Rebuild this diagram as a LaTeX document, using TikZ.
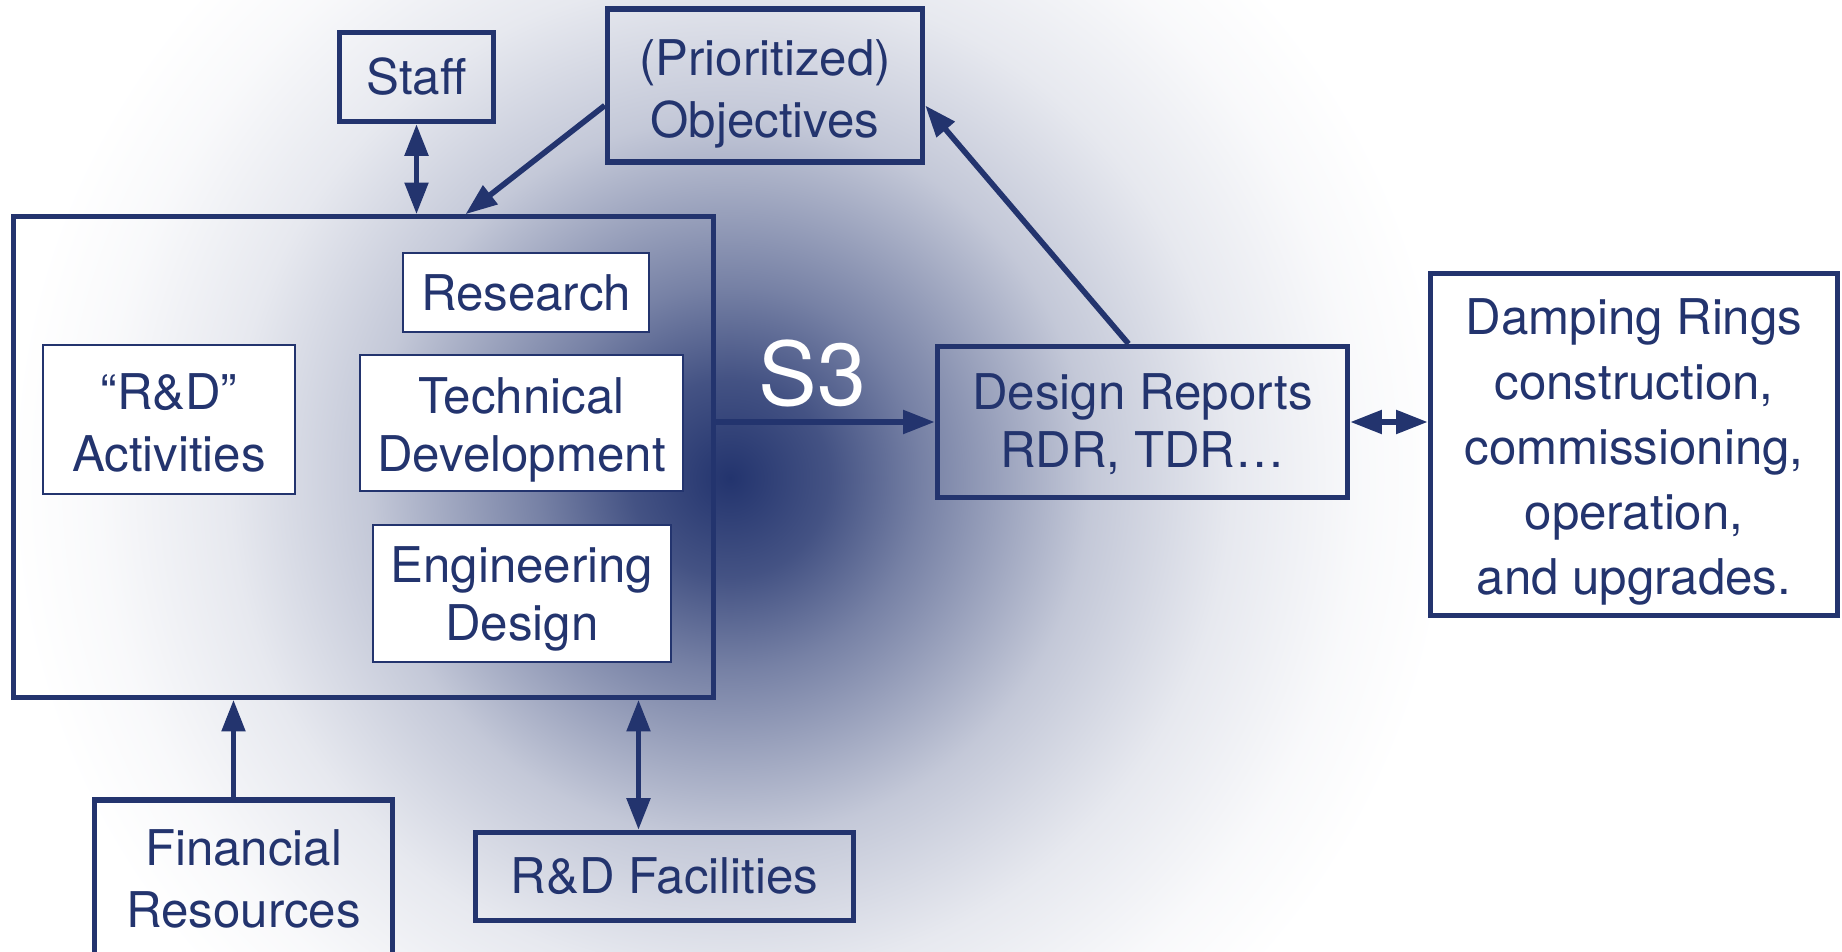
\documentclass[tikz,border=0pt]{standalone}
\usepackage{fontspec}
\setmainfont{TeX Gyre Heros}
\usepackage{tikz}
\usetikzlibrary{arrows.meta, calc}
\definecolor{ilcblue}{RGB}{35,52,110}
\pgfdeclareradialshading{glow}{\pgfpoint{0bp}{0bp}}{%
  color(0bp)=(ilcblue); color(3.3bp)=(ilcblue!85); color(6.4bp)=(ilcblue!62);
  color(12bp)=(ilcblue!27); color(16.7bp)=(ilcblue!11); color(21bp)=(ilcblue!3);
  color(24bp)=(white); color(50bp)=(white)}

\begin{document}
\begin{tikzpicture}[x=0.01cm, y=-0.01cm,
    font=\fontsize{14}{17.5}\selectfont, text=ilcblue,
    thickbox/.style={draw=ilcblue, line width=1.5pt, align=center, inner sep=0pt},
    thinbox/.style={draw=ilcblue, line width=0.6pt, fill=white, align=center, inner sep=0pt},
    tight/.style={font=\fontsize{14}{16.5}\selectfont},
    lowered/.style={execute at begin node={\rule{0pt}{#1}}},
    lowered/.default=32.5pt,
    link/.style={draw=ilcblue, line width=1.6pt, -{Triangle[length=9pt,width=6.5pt]}},
    twoway/.style={link, {Triangle[length=9pt,width=6.5pt]}-{Triangle[length=9pt,width=6.5pt]}}]
    \useasboundingbox (0,0) rectangle (1842,952);
    % glow behind everything
    \begin{scope}
        \clip (0,0) rectangle (1842,952);
        \shade[shading=glow] (730,478) circle (7.5cm);
    \end{scope}

    % R&D block and what it holds
    \node[thickbox, minimum width=7.0cm, minimum height=4.8cm] (rnd) at (363.5,457) {};
    \node[thinbox, minimum width=2.46cm, minimum height=0.79cm] (research) at (526,292.5) {Research};
    \node[thinbox, lowered=29.5pt, minimum width=2.52cm, minimum height=1.49cm] (activities) at (169,419.5) {“R\&D”\\Activities};
    \node[thinbox, tight, lowered=30.5pt, minimum width=3.23cm, minimum height=1.36cm] (technical) at (521.5,423) {Technical\\Development};
    \node[thinbox, tight, lowered=30pt, minimum width=2.98cm, minimum height=1.37cm] (engineering) at (522,593.5) {Engineering\\Design};

    % inputs and outputs
    \node[thickbox, minimum width=1.54cm, minimum height=0.89cm] (staff) at (416.5,77) {Staff};
    \node[thickbox, lowered, minimum width=3.15cm, minimum height=1.53cm] (objectives) at (765,85.5) {(Prioritized)\\Objectives};
    \node[thickbox, tight, lowered=28pt, minimum width=4.10cm, minimum height=1.51cm] (design) at (1142.5,422) {Design Reports\\RDR, TDR…};
    \node[thickbox, lowered=88.5pt, fill=white, minimum width=4.07cm, minimum height=3.42cm,
          font=\fontsize{14}{18.5}\selectfont] (damping) at (1634,444.5) {Damping Rings\\construction,\\commissioning,\\operation,\\and upgrades.};
    \node[thickbox, minimum width=2.98cm, minimum height=1.58cm] (financial) at (243.5,879) {Financial\\Resources};
    \node[thickbox, minimum width=3.78cm, minimum height=0.88cm] (facilities) at (664.5,876.5) {R\&D Facilities};

    \coordinate (finfoot) at ($(financial.north)+(-10,0)$);
    \coordinate (facfoot) at ($(facilities.north)+(-26,0)$);

    % connectors
    \draw[link] (rnd.east |- design.west) -- node[pos=0.44, above, text=white, font=\fontsize{25}{30}\selectfont] (s3) {S3} (design.west);
    \draw[twoway] (design.east) -- (design.east -| damping.west);
    \draw[link] ($(design.north)+(-14,0)$) -- ($(objectives.east)+(0,20)$);
    \draw[link] ($(objectives.west)+(0,20)$) -- ($(rnd.north)+(102,0)$);
    \draw[twoway] (staff.south) -- (staff.south |- rnd.north);
    \draw[link] (finfoot) -- (finfoot |- rnd.south);
    \draw[twoway] (facfoot) -- (facfoot |- rnd.south);
\end{tikzpicture}
\end{document}
